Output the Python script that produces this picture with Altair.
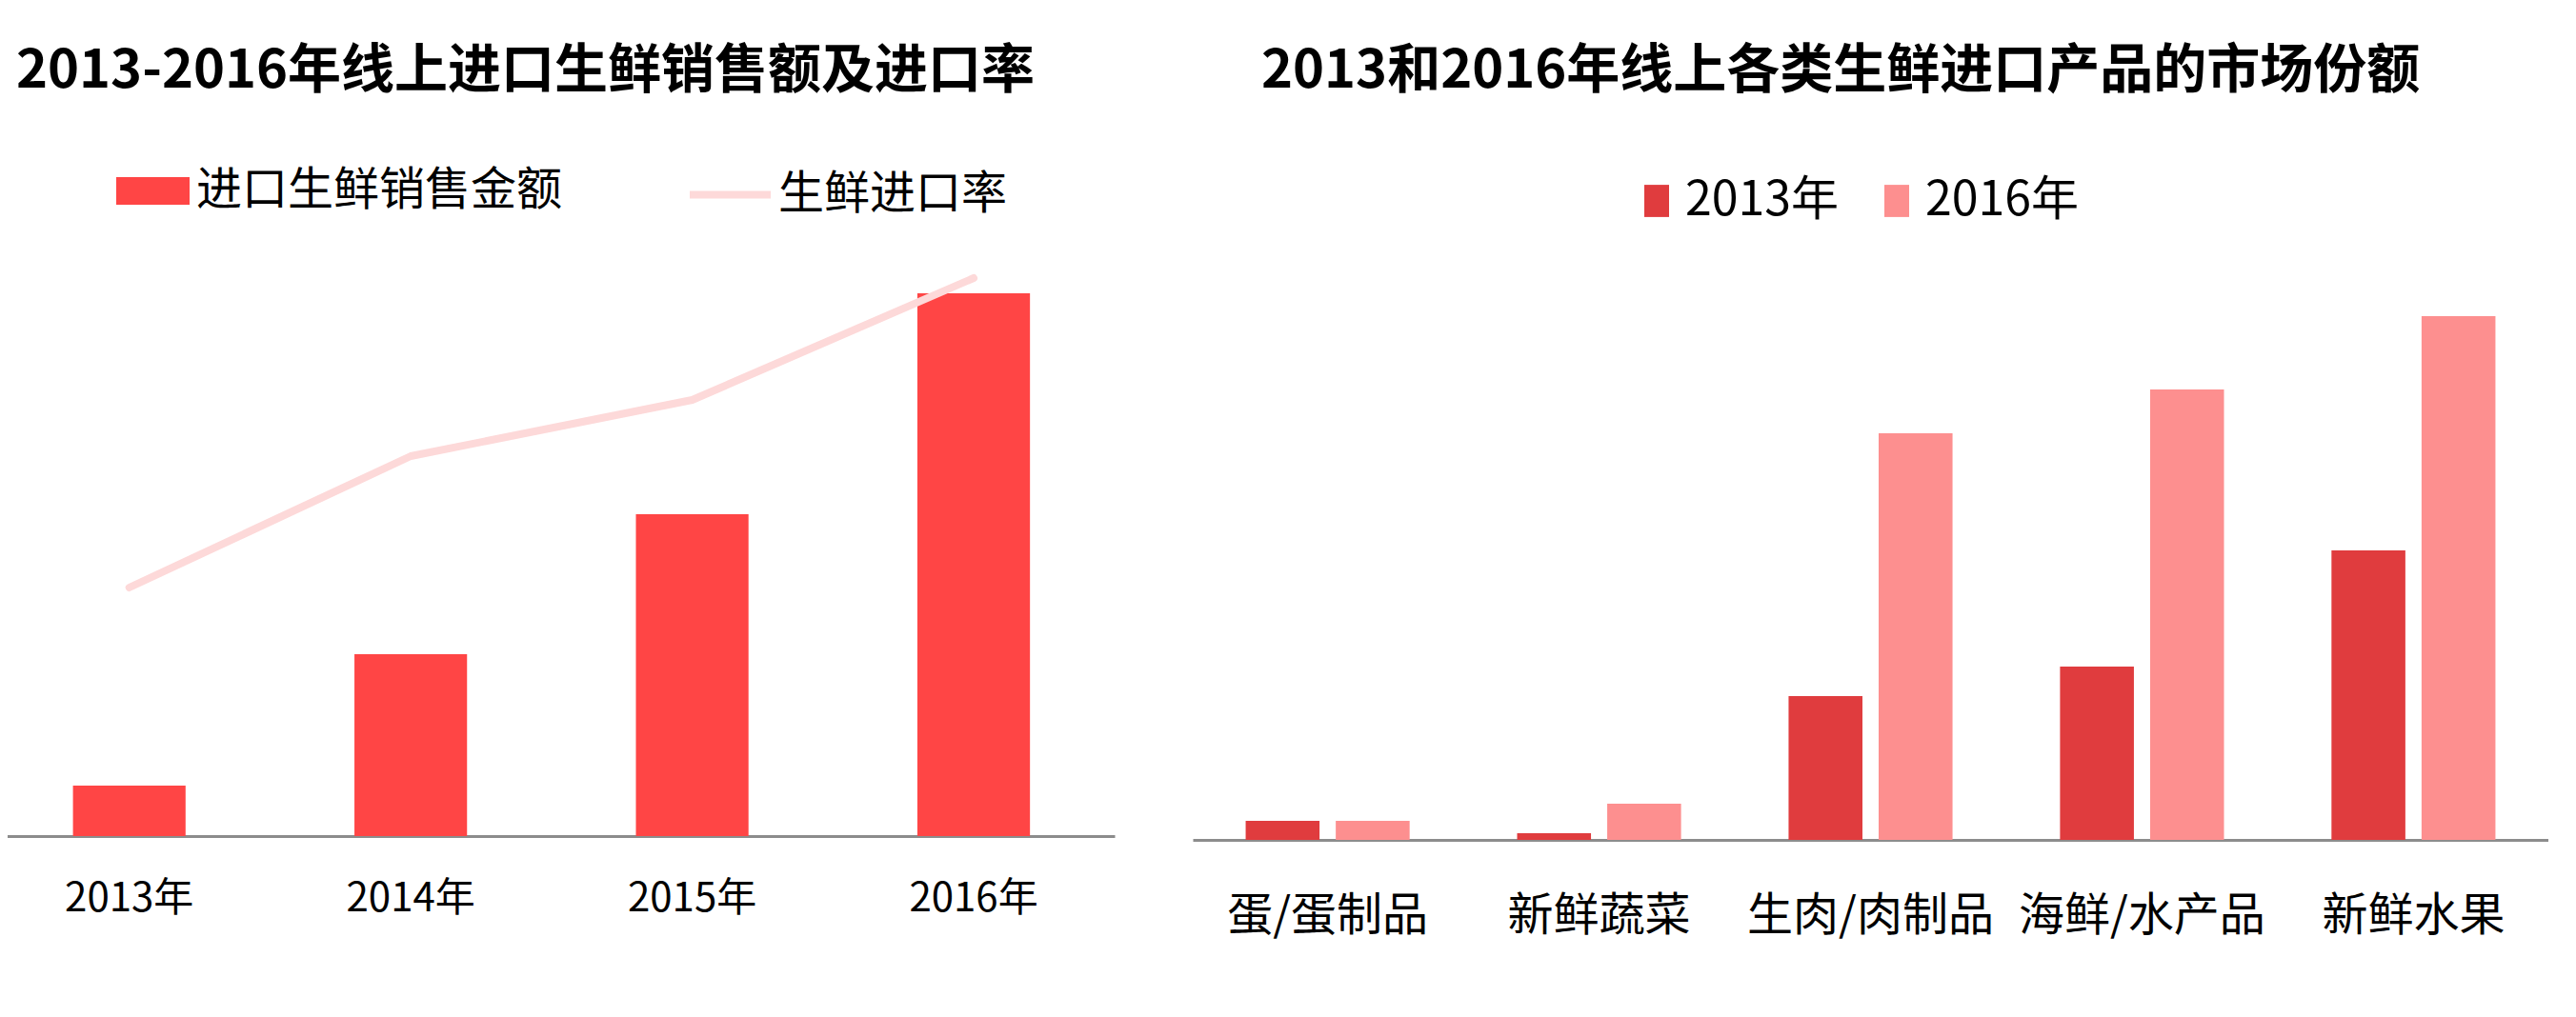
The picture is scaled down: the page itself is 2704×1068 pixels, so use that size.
import altair as alt
import pandas as pd

FONT = "Noto Sans CJK SC"

# ---- left chart data ----
years = ["2013年", "2014年", "2015年", "2016年"]
sales = [5.3, 19.1, 33.8, 57.0]          # 进口生鲜销售金额 (relative)
rate = [26.1, 39.9, 45.8, 58.6]          # 生鲜进口率 (relative)
left_series_bar = "进口生鲜销售金额"
left_series_line = "生鲜进口率"

# ---- right chart data ----
categories = ["蛋/蛋制品", "新鲜蔬菜", "生肉/肉制品", "海鲜/水产品", "新鲜水果"]
share_2013 = [2.0, 0.7, 15.1, 18.2, 30.4]
share_2016 = [2.0, 3.8, 42.7, 47.3, 55.0]
series_years = ["2013年", "2016年"]

left_df = pd.DataFrame({
    "year": years, "sales": sales, "rate": rate,
    "s1": left_series_bar, "s2": left_series_line,
})

right_rows = []
for c, a, b in zip(categories, share_2013, share_2016):
    right_rows.append({"category": c, "year": series_years[0], "value": a})
    right_rows.append({"category": c, "year": series_years[1], "value": b})
right_df = pd.DataFrame(right_rows)

AXIS_GRAY = "#8c8c8c"

xl = alt.X(
    "year:N", sort=years, title=None,
    scale=alt.Scale(paddingInner=0.6, paddingOuter=0.28, align=0.463),
    axis=alt.Axis(labelAngle=0, labelFontSize=42, labelFont=FONT, labelColor="#000000",
                  labelPadding=45, ticks=False, domainColor=AXIS_GRAY, domainWidth=3,
                  grid=False, labelLimit=0),
)
yl_scale = alt.Scale(domain=[0, 72.9])

bars = alt.Chart(left_df).mark_bar().encode(
    x=xl,
    y=alt.Y("sales:Q", scale=yl_scale, axis=None),
    fill=alt.Fill(
        "s1:N",
        scale=alt.Scale(range=["#ff4545"]),
        legend=alt.Legend(
            title=None, orient="none", legendX=122, legendY=13, padding=0,
            symbolType="M-1,-0.377H1V0.377H-1Z", symbolSize=5929, symbolStrokeWidth=0,
            symbolOpacity=1, labelFontSize=48, labelFont=FONT, labelColor="#000000",
            labelOffset=7, labelLimit=0,
        ),
    ),
)

line = alt.Chart(left_df).mark_line(strokeWidth=8, strokeCap="round", strokeJoin="round").encode(
    x=xl,
    y=alt.Y("rate:Q", scale=yl_scale, axis=None),
    stroke=alt.Stroke(
        "s2:N",
        scale=alt.Scale(range=["#fdd9d9"]),
        legend=alt.Legend(
            title=None, orient="none", legendX=720, legendY=9, padding=0,
            symbolType="stroke", symbolSize=7225, symbolStrokeWidth=8,
            labelFontSize=48, labelFont=FONT, labelColor="#000000",
            labelOffset=4, labelLimit=0,
        ),
    ),
)

left = alt.layer(bars, line).properties(
    width=1170, height=729,
    title=alt.TitleParams(
        "2013-2016年线上进口生鲜销售额及进口率", font=FONT, fontSize=56, fontWeight="bold",
        color="#000000", anchor="start", dx=17, offset=45,
    ),
)

right = alt.Chart(right_df).mark_bar().encode(
    x=alt.X(
        "category:N", sort=categories, title=None,
        scale=alt.Scale(paddingInner=0.396, paddingOuter=0.195),
        axis=alt.Axis(labelAngle=0, labelFontSize=48, labelFont=FONT, labelColor="#000000",
                      labelPadding=56, ticks=False, domainColor=AXIS_GRAY, domainWidth=3,
                      grid=False, labelLimit=0),
    ),
    xOffset=alt.XOffset("year:N", sort=series_years,
                        scale=alt.Scale(paddingInner=0.18, paddingOuter=0)),
    y=alt.Y("value:Q", scale=alt.Scale(domain=[0, 73.3]), axis=None),
    fill=alt.Fill(
        "year:N",
        scale=alt.Scale(domain=series_years, range=["#e03c3e", "#fd8f8f"]),
        legend=alt.Legend(
            title=None, orient="none", direction="horizontal", columns=2,
            legendX=462, legendY=37, padding=0,
            symbolType="M-1,-1.3H1V1.3H-1Z", symbolSize=676, symbolStrokeWidth=0,
            symbolOpacity=1, labelFontSize=50, labelFont=FONT, labelColor="#000000",
            labelOffset=5, columnPadding=36, labelLimit=0,
        ),
    ),
).properties(
    width=1423, height=733,
    title=alt.TitleParams(
        "2013和2016年线上各类生鲜进口产品的市场份额", font=FONT, fontSize=56, fontWeight="bold",
        color="#000000", anchor="start", dx=72, offset=45,
    ),
)

chart = alt.hconcat(left, right, spacing=82).resolve_scale(
    fill="independent", stroke="independent"
).resolve_legend(fill="independent", stroke="independent").properties(
    padding={"left": -8, "top": 39, "right": 0, "bottom": 30},
    background="#ffffff",
).configure_view(stroke=None)

chart.save("out.html", embed_options={"renderer": "svg", "actions": False})
